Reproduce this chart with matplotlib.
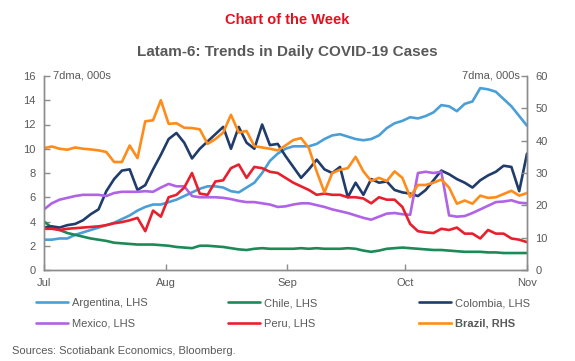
import numpy as np
import pandas as pd
import matplotlib
matplotlib.use("Agg")
import matplotlib.pyplot as plt
import matplotlib.dates as mdates

plt.rcParams['font.family'] = ['Liberation Sans', 'DejaVu Sans']

# 63 points, roughly every 2 days, Jul 1 to Nov 1
dates = pd.date_range("2020-07-01", "2020-11-01", periods=63)

# LHS, 7dma, 000s
argentina = [2.5, 2.5, 2.6, 2.6, 2.9, 3.1, 3.3, 3.5, 3.7, 3.9,
             4.2, 4.5, 4.9, 5.2, 5.4, 5.4, 5.6, 5.8, 6.1, 6.4,
             6.7, 6.9, 6.9, 6.8, 6.5, 6.4, 6.8, 7.2, 8.0, 9.0,
             9.6, 10.0, 10.2, 10.2, 10.2, 10.4, 10.8, 11.1, 11.2, 11.0,
             10.8, 10.7, 10.8, 11.1, 11.7, 12.1, 12.3, 12.6, 12.5, 12.7,
             13.0, 13.6, 13.5, 13.1, 13.7, 13.9, 15.0, 14.9, 14.7, 14.1,
             13.5, 12.7, 11.9]
chile = [4.0, 3.5, 3.3, 3.05, 2.9, 2.75, 2.6, 2.5, 2.4, 2.25,
         2.2, 2.15, 2.1, 2.1, 2.1, 2.05, 2.0, 1.9, 1.85, 1.8,
         2.0, 2.0, 1.95, 1.9, 1.8, 1.7, 1.65, 1.75, 1.8, 1.75,
         1.75, 1.75, 1.75, 1.8, 1.75, 1.8, 1.75, 1.75, 1.75, 1.8,
         1.75, 1.6, 1.5, 1.6, 1.75, 1.8, 1.85, 1.8, 1.75, 1.7,
         1.65, 1.65, 1.6, 1.55, 1.5, 1.5, 1.5, 1.45, 1.45, 1.4,
         1.4, 1.4, 1.4]
colombia = [3.5, 3.6, 3.5, 3.7, 3.8, 4.1, 4.6, 5.0, 6.5, 7.5,
            8.2, 8.3, 6.6, 7.0, 8.3, 9.5, 10.8, 11.3, 10.5, 9.2,
            10.0, 10.6, 11.2, 11.8, 10.0, 11.8, 10.5, 10.0, 12.0, 10.3,
            10.4, 9.4, 8.5, 7.6, 8.3, 9.1, 8.3, 8.0, 8.5, 6.0,
            7.2, 6.2, 7.5, 7.2, 7.3, 6.6, 6.4, 6.3, 6.1, 6.6,
            7.4, 8.2, 7.9, 7.5, 7.2, 6.8, 7.4, 7.8, 8.1, 8.6,
            8.5, 6.5, 9.6]
mexico = [5.0, 5.5, 5.8, 5.95, 6.1, 6.2, 6.2, 6.2, 6.1, 6.35,
          6.45, 6.45, 6.45, 6.5, 6.45, 6.8, 7.1, 6.9, 6.9, 6.1,
          6.0, 6.0, 6.0, 5.95, 5.85, 5.7, 5.6, 5.6, 5.5, 5.4,
          5.2, 5.25, 5.4, 5.5, 5.5, 5.35, 5.2, 5.0, 4.85, 4.7,
          4.5, 4.3, 4.15, 4.4, 4.65, 4.7, 4.6, 4.55, 8.0, 8.1,
          8.0, 8.1, 4.5, 4.4, 4.45, 4.7, 5.0, 5.3, 5.6, 5.65,
          5.75, 5.55, 5.5]
peru = [3.4, 3.4, 3.3, 3.4, 3.45, 3.5, 3.55, 3.6, 3.7, 3.85,
        3.95, 4.1, 4.3, 3.2, 4.9, 4.4, 6.0, 6.2, 6.8, 8.0,
        6.3, 6.2, 7.3, 7.4, 8.4, 8.7, 7.6, 8.5, 8.4, 8.1,
        8.0, 7.6, 7.2, 6.9, 6.6, 6.2, 6.3, 6.2, 6.2, 6.0,
        6.0, 5.9, 5.5, 6.0, 5.8, 5.8, 5.2, 3.8, 3.2, 3.1,
        3.05, 3.4, 3.3, 3.5, 3.0, 3.0, 2.6, 3.3, 3.0, 3.0,
        2.6, 2.5, 2.3]
# RHS, 7dma, 000s
brazil = [37.7, 38.2, 37.5, 37.2, 37.9, 37.5, 37.3, 37.0, 36.5, 33.4,
          33.4, 38.5, 34.6, 46.0, 46.3, 52.5, 45.2, 45.4, 44.0, 43.9,
          43.5, 39.0, 40.5, 42.5, 48.0, 42.5, 43.0, 38.3, 37.9, 37.5,
          37.0, 38.5, 40.2, 40.8, 37.7, 30.5, 24.0, 30.0, 31.0, 31.5,
          35.0, 30.5, 27.5, 28.5, 27.5, 30.5, 28.5, 22.6, 26.3, 26.3,
          27.0, 28.0, 25.5, 20.5, 21.5, 20.5, 23.0, 22.3, 22.5, 23.5,
          24.5, 23.0, 23.8]

lhs_series = [("Argentina, LHS", argentina, "#4a9fd6"),
              ("Chile, LHS", chile, "#1b8a57"),
              ("Colombia, LHS", colombia, "#1f3c6b"),
              ("Mexico, LHS", mexico, "#b063e6"),
              ("Peru, LHS", peru, "#e8202e")]

grey = "#595959"
axis_col = "#8c8c8c"

fig = plt.figure(figsize=(5.75, 3.61), dpi=100)
ax = fig.add_axes([44/575, 1-270/361, (527-44)/575, (270-76)/361])
ax2 = ax.twinx()

lines = {}
for name, vals, col in lhs_series:
    lines[name], = ax.plot(dates, vals, color=col, lw=1.9, solid_capstyle='round')
lines["Brazil, RHS"], = ax2.plot(dates, brazil, color="#ff8c1a", lw=1.9)

ax.set_ylim(0, 16)
ax.set_yticks(range(0, 17, 2))
ax2.set_ylim(0, 60)
ax2.set_yticks(range(0, 61, 10))
ax.set_xlim(pd.Timestamp("2020-07-01"), pd.Timestamp("2020-11-01"))
ax.xaxis.set_major_locator(mdates.MonthLocator())
ax.xaxis.set_major_formatter(mdates.DateFormatter("%b"))

for a in (ax, ax2):
    a.spines['top'].set_visible(False)
    for s in ('left', 'right', 'bottom'):
        a.spines[s].set_color(axis_col)
        a.spines[s].set_linewidth(1.0)
    a.tick_params(direction='in', length=4, width=1, color=axis_col,
                  labelsize=8, labelcolor=grey, pad=6)
ax.tick_params(axis='x', pad=6)

ax.text(0.018, 1.0, "7dma, 000s", transform=ax.transAxes, fontsize=8,
        color=grey, ha='left', va='center')
ax.text(0.985, 1.0, "7dma, 000s", transform=ax.transAxes, fontsize=8,
        color=grey, ha='right', va='center')

fig.text(0.5, 1-20/361, "Chart of the Week", ha='center', va='center',
         fontsize=10.5, fontweight='bold', color="#e5101f")
fig.text(0.5, 1-52/361, "Latam-6: Trends in Daily COVID-19 Cases", ha='center',
         va='center', fontsize=11, fontweight='bold', color=grey)

cols = [(["Argentina, LHS", "Mexico, LHS"], 36),
        (["Chile, LHS", "Peru, LHS"], 228),
        (["Colombia, LHS", "Brazil, RHS"], 419)]
for names, xpix in cols:
    leg = fig.legend([lines[n] for n in names], names, loc='upper left',
                     bbox_to_anchor=(xpix/575, 1-298/361), frameon=False,
                     fontsize=8, handlelength=2.9, handletextpad=0.3,
                     labelspacing=0.95, borderaxespad=0, borderpad=0)
    for t in leg.get_texts():
        t.set_color(grey)
        if t.get_text() == "Brazil, RHS":
            t.set_fontweight('bold')

fig.text(12/575, 1-351/361, "Sources: Scotiabank Economics, Bloomberg.",
         ha='left', va='center', fontsize=8, color=grey)

fig.savefig("out.png", dpi=100)
